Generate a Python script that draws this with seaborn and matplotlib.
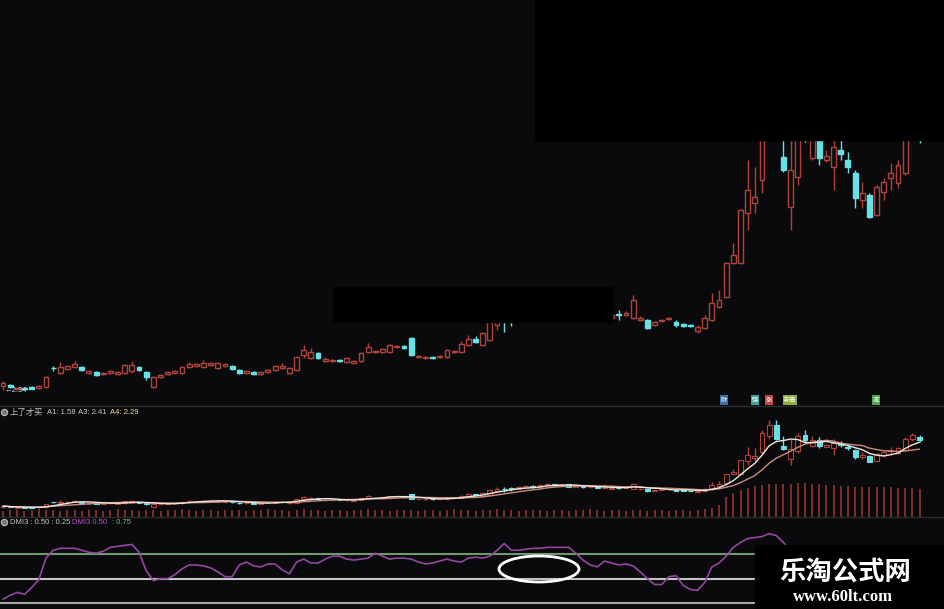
import numpy as np
import pandas as pd
import seaborn as sns
import matplotlib.pyplot as plt
from matplotlib.patches import Rectangle, Ellipse
from matplotlib.lines import Line2D

# daily candles
opens = [2.38, 2.39, 2.35, 2.36, 2.37, 2.36, 2.37, 2.56, 2.51, 2.55,
         2.57, 2.57, 2.51, 2.52, 2.50, 2.51, 2.50, 2.51, 2.53, 2.57,
         2.52, 2.37, 2.47, 2.50, 2.51, 2.51, 2.57, 2.58, 2.57, 2.59,
         2.56, 2.58, 2.58, 2.54, 2.51, 2.52, 2.50, 2.52, 2.54, 2.56,
         2.51, 2.54, 2.69, 2.66, 2.71, 2.63, 2.63, 2.64, 2.62, 2.61,
         2.63, 2.72, 2.72, 2.72, 2.72, 2.77, 2.78, 2.86, 2.67, 2.66,
         2.67, 2.67, 2.67, 2.72, 2.72, 2.79, 2.85, 2.79, 2.84, 2.99,
         3.06, 3.08, 3.06, 3.10, 3.15, 3.12, 3.18, 3.23, 3.19, 3.22,
         3.14, 3.18, 3.11, 3.14, 3.08, 3.06, 3.10, 3.09, 3.06, 3.04,
         3.04, 2.99, 3.03, 3.05, 3.02, 3.00, 2.99, 2.93, 2.96, 3.04,
         3.17, 3.27, 3.61, 3.61, 4.11, 4.21, 4.44, 5.04, 5.44, 4.67,
         4.17, 4.47, 5.09, 4.66, 4.89, 4.64, 4.57, 4.74, 4.64, 4.51,
         4.24, 4.29, 4.09, 4.32, 4.46, 4.41, 4.51, 4.92, 4.99]
closes = [2.41, 2.37, 2.36, 2.35, 2.35, 2.38, 2.47, 2.555, 2.57, 2.58,
          2.60, 2.54, 2.53, 2.49, 2.51, 2.53, 2.52, 2.59, 2.59, 2.54,
          2.47, 2.47, 2.49, 2.52, 2.53, 2.57, 2.60, 2.60, 2.61, 2.61,
          2.61, 2.60, 2.55, 2.51, 2.53, 2.50, 2.52, 2.54, 2.58, 2.58,
          2.56, 2.67, 2.74, 2.72, 2.66, 2.65, 2.64, 2.63, 2.66, 2.63,
          2.71, 2.77, 2.73, 2.75, 2.79, 2.78, 2.76, 2.69, 2.68, 2.67,
          2.66, 2.68, 2.74, 2.73, 2.80, 2.85, 2.82, 2.91, 3.02, 3.06,
          3.05, 3.04, 3.12, 3.16, 3.12, 3.19, 3.24, 3.19, 3.22, 3.14,
          3.18, 3.12, 3.15, 3.09, 3.11, 3.09, 3.09, 3.11, 3.24, 3.06,
          2.96, 3.02, 3.04, 3.06, 2.99, 2.98, 2.98, 2.97, 3.06, 3.21,
          3.24, 3.61, 3.69, 4.14, 4.34, 4.27, 5.14, 5.44, 4.94, 4.54,
          4.54, 5.04, 4.89, 4.89, 4.66, 4.68, 4.77, 4.70, 4.57, 4.26,
          4.31, 4.07, 4.37, 4.42, 4.51, 4.59, 4.94, 5.06, 4.89]
highs = [2.43, 2.40, 2.37, 2.37, 2.38, 2.39, 2.48, 2.58, 2.62, 2.59,
         2.63, 2.58, 2.54, 2.53, 2.52, 2.54, 2.53, 2.60, 2.63, 2.58,
         2.53, 2.48, 2.50, 2.53, 2.54, 2.58, 2.62, 2.61, 2.64, 2.62,
         2.62, 2.61, 2.59, 2.55, 2.54, 2.53, 2.53, 2.55, 2.59, 2.61,
         2.57, 2.68, 2.79, 2.76, 2.72, 2.67, 2.65, 2.65, 2.67, 2.64,
         2.72, 2.81, 2.74, 2.76, 2.80, 2.79, 2.79, 2.87, 2.69, 2.68,
         2.68, 2.69, 2.75, 2.74, 2.83, 2.89, 2.88, 2.92, 3.04, 3.12,
         3.14, 3.12, 3.16, 3.19, 3.18, 3.22, 3.28, 3.25, 3.24, 3.24,
         3.20, 3.19, 3.17, 3.16, 3.13, 3.11, 3.14, 3.13, 3.29, 3.08,
         3.05, 3.03, 3.05, 3.07, 3.04, 3.01, 3.00, 2.99, 3.09, 3.31,
         3.34, 3.62, 3.81, 4.15, 4.64, 4.57, 5.24, 5.64, 5.62, 5.04,
         4.94, 5.14, 5.24, 5.04, 4.99, 4.74, 4.94, 4.84, 4.72, 4.54,
         4.42, 4.31, 4.39, 4.46, 4.61, 4.64, 4.99, 5.14, 5.09]
lows = [2.34, 2.36, 2.35, 2.35, 2.35, 2.35, 2.36, 2.53, 2.50, 2.54,
        2.56, 2.53, 2.50, 2.48, 2.49, 2.50, 2.49, 2.50, 2.51, 2.53,
        2.44, 2.36, 2.46, 2.49, 2.50, 2.50, 2.56, 2.57, 2.56, 2.58,
        2.55, 2.57, 2.54, 2.50, 2.50, 2.49, 2.49, 2.51, 2.53, 2.55,
        2.50, 2.53, 2.66, 2.65, 2.65, 2.62, 2.62, 2.62, 2.61, 2.60,
        2.62, 2.71, 2.71, 2.71, 2.71, 2.76, 2.75, 2.68, 2.66, 2.65,
        2.65, 2.66, 2.66, 2.71, 2.71, 2.78, 2.81, 2.78, 2.83, 2.94,
        2.92, 2.98, 3.04, 3.08, 3.10, 3.10, 3.16, 3.17, 3.17, 3.12,
        3.12, 3.10, 3.09, 3.07, 3.06, 3.05, 3.04, 3.08, 3.05, 3.03,
        2.95, 2.98, 3.02, 3.04, 2.97, 2.97, 2.97, 2.91, 2.95, 3.03,
        3.16, 3.26, 3.60, 3.60, 3.94, 4.11, 4.31, 4.94, 4.89, 4.52,
        3.94, 4.39, 4.82, 4.64, 4.59, 4.62, 4.34, 4.64, 4.51, 4.16,
        4.16, 4.06, 4.08, 4.24, 4.34, 4.36, 4.49, 4.86, 4.81]

# red sticks at the bottom of the middle panel
sticks = [6, 7, 7, 6, 7, 8, 7, 7, 6, 7,
          7, 6, 7, 7, 6, 7, 8, 7, 7, 6,
          7, 7, 6, 7, 7, 8, 7, 6, 7, 7,
          6, 7, 7, 7, 6, 7, 7, 8, 7, 7,
          6, 7, 8, 7, 7, 6, 7, 7, 6, 7,
          7, 8, 7, 7, 6, 7, 7, 7, 6, 7,
          7, 6, 7, 8, 7, 7, 6, 7, 7, 8,
          7, 7, 6, 7, 7, 7, 6, 7, 7, 6,
          7, 7, 8, 7, 6, 7, 7, 6, 7, 7,
          6, 7, 7, 6, 7, 7, 6, 7, 8, 9,
          12, 20, 24, 27, 29, 31, 32, 33, 33, 33,
          33, 34, 34, 33, 33, 32, 32, 31, 31, 30,
          30, 30, 30, 30, 30, 29, 29, 29, 28]

# DMI3 line in the bottom panel
dmi = [0.29, 0.33, 0.36, 0.34, 0.41, 0.49, 0.71, 0.79, 0.81, 0.81,
       0.81, 0.79, 0.77, 0.76, 0.78, 0.82, 0.83, 0.84, 0.85, 0.77,
       0.58, 0.48, 0.50, 0.50, 0.54, 0.60, 0.64, 0.64, 0.63, 0.61,
       0.57, 0.52, 0.52, 0.64, 0.67, 0.63, 0.62, 0.65, 0.65, 0.59,
       0.55, 0.67, 0.70, 0.66, 0.66, 0.70, 0.73, 0.73, 0.70, 0.69,
       0.70, 0.71, 0.76, 0.73, 0.70, 0.71, 0.71, 0.70, 0.67, 0.65,
       0.66, 0.68, 0.70, 0.68, 0.67, 0.71, 0.72, 0.71, 0.73, 0.79,
       0.86, 0.79, 0.79, 0.80, 0.81, 0.81, 0.82, 0.82, 0.82, 0.82,
       0.76, 0.69, 0.64, 0.62, 0.68, 0.66, 0.64, 0.65, 0.63, 0.57,
       0.50, 0.44, 0.44, 0.52, 0.53, 0.43, 0.39, 0.38, 0.46, 0.62,
       0.66, 0.73, 0.82, 0.87, 0.91, 0.92, 0.93, 0.96, 0.94, 0.87,
       0.79, 0.73, 0.69, 0.64, 0.59, 0.57, 0.53, 0.48, 0.45, 0.40,
       0.38, 0.36, 0.40, 0.44, 0.48, 0.53, 0.59, 0.63, 0.67]
dmi_levels = [0.75, 0.50, 0.25]
signal_names = ["财", "强", "涨", "新高", "减"]

BG = "#0a0a0c"
RED = "#b0443a"
CYAN = "#66e2e6"
W, H = 945, 609

sns.set_theme(style="dark", rc={"axes.facecolor": BG, "figure.facecolor": BG})
plt.rcParams['font.family'] = ['Noto Sans CJK SC', 'DejaVu Sans']

df = pd.DataFrame({"open": opens, "high": highs, "low": lows, "close": closes})
df["day"] = np.arange(len(df))
df["ma5"] = df["close"].rolling(5, min_periods=1).mean()
df["ma10"] = df["close"].rolling(10, min_periods=1).mean()


def px(x, y):
    return x / W, 1 - y / H


def draw_candles(ax, lw):
    up = df["close"] >= df["open"]
    cols = np.where(up, RED, CYAN)
    ax.vlines(df["day"], df["low"], df["high"], colors=cols, lw=1, zorder=1)
    bottom = np.minimum(df["open"], df["close"])
    height = np.maximum((df["close"] - df["open"]).abs(), 0.004)
    ax.bar(df["day"], height, bottom=bottom, width=0.68,
           color=np.where(up, BG, CYAN), edgecolor=cols, lw=lw, zorder=2)


def clean(ax):
    ax.set_xticks([])
    ax.set_yticks([])
    ax.grid(False)
    for s in ax.spines.values():
        s.set_visible(False)
    ax.set_xlim(-0.42, 131.56)


fig = plt.figure(figsize=(9.45, 6.09), dpi=100)

# main candle panel
ax1 = fig.add_axes([0, 1 - 405 / H, 1, 405 / H])
draw_candles(ax1, 1.0)
ax1.set_ylim(2.19, 6.24)
clean(ax1)

# middle panel: candles, averages, sticks
ax2 = fig.add_axes([0, 1 - 517 / H, 1, 110 / H])
ax2b = ax2.twinx()
ax2b.vlines(df["day"], 0, sticks, colors="#9c3a32", lw=1.1)
ax2b.set_ylim(0, 110)
draw_candles(ax2, 0.8)
sns.lineplot(data=df, x="day", y="ma10", ax=ax2, color="#c88c80", lw=1, legend=False, zorder=3)
sns.lineplot(data=df, x="day", y="ma5", ax=ax2, color="#efe6dc", lw=1, legend=False, zorder=3)
ax2.set_ylim(2.00, 6.12)
ax2.set_zorder(ax2b.get_zorder() + 1)
ax2.patch.set_visible(False)
for a in (ax2, ax2b):
    clean(a)
    a.set_xlabel("")
    a.set_ylabel("")

# bottom panel: DMI3
ax3 = fig.add_axes([0, 0, 1, 92 / H])
for lvl, c in zip(dmi_levels, ["#6f9a6f", "#c4c4c4", "#a8a8a8"]):
    ax3.axhline(lvl, color=c, lw=1.5)
sns.lineplot(x=df["day"], y=dmi, ax=ax3, color="#9446a0", lw=1.2, legend=False)
ax3.set_ylim(0.19, 1.13)
clean(ax3)
ax3.set_xlabel("")
ax3.set_ylabel("")

# panel separators
for y in (406, 517):
    fig.add_artist(Line2D([0, 1], [1 - y / H] * 2, color="#2c2c30", lw=1))

# blacked-out areas of the screenshot
fig.add_artist(Rectangle(px(535, 140), 410 / W, 140 / H, color="black", zorder=10))
fig.add_artist(Rectangle(px(333, 322), 279 / W, 35 / H, color="black", zorder=10))

# low label
fig.text(*px(4, 391), "←2.34", color="#d8d8d8", fontsize=5.5, va="center",
         family="Liberation Sans")

# signal tags
tag_x = [724, 755, 769, 790, 876]
tag_bg = ["#3d6ea8", "#3aa3a0", "#c04848", "#8fb040", "#4aa84a"]
for name, x, c in zip(signal_names, tag_x, tag_bg):
    fig.text(*px(x, 400), name, color="white", fontsize=4.5, ha="center", va="center",
             bbox=dict(boxstyle="square,pad=0.15", fc=c, ec="none"))

# panel headers
for y in (412, 522):
    fig.add_artist(Line2D([4 / W], [1 - y / H], marker="o", ms=4.5, mfc="#777777",
                          mec="#bbbbbb", mew=0.8))
fig.text(*px(10, 412), "上了才买", color="#c8c8c8", fontsize=6, va="center")
for x, s, c in [(47, "A1: 1.58", "#c8c8c8"), (78, "A3: 2.41", "#c8c8c8"),
                (110, "A4: 2.29", "#e6e08a")]:
    fig.text(*px(x, 412), s, color=c, fontsize=5.5, va="center", family="Liberation Sans")
for x, s, c in [(10, "DMI3 : 0.50 : 0.25", "#c8c8c8"), (72, "DMI3 0.50", "#c050c8"),
                (112, ": 0.75", "#7ec07e")]:
    fig.text(*px(x, 522), s, color=c, fontsize=5.5, va="center", family="Liberation Sans")

# hand-drawn ellipse
fig.add_artist(Ellipse(px(539, 569), 80 / W, 26 / H, fill=False, ec="white", lw=2))

# watermark block
fig.add_artist(Rectangle(px(755, 609), 190 / W, 64 / H, color="black", zorder=10))
fig.text(*px(845, 572), "乐淘公式网", color="white", fontsize=19, weight="bold",
         ha="center", va="center", zorder=11)
fig.text(*px(843, 597), "www.60lt.com", color="white", fontsize=12, weight="bold",
         ha="center", va="center", family="Liberation Serif", zorder=11)

fig.savefig("out.png", dpi=100, facecolor=BG)
